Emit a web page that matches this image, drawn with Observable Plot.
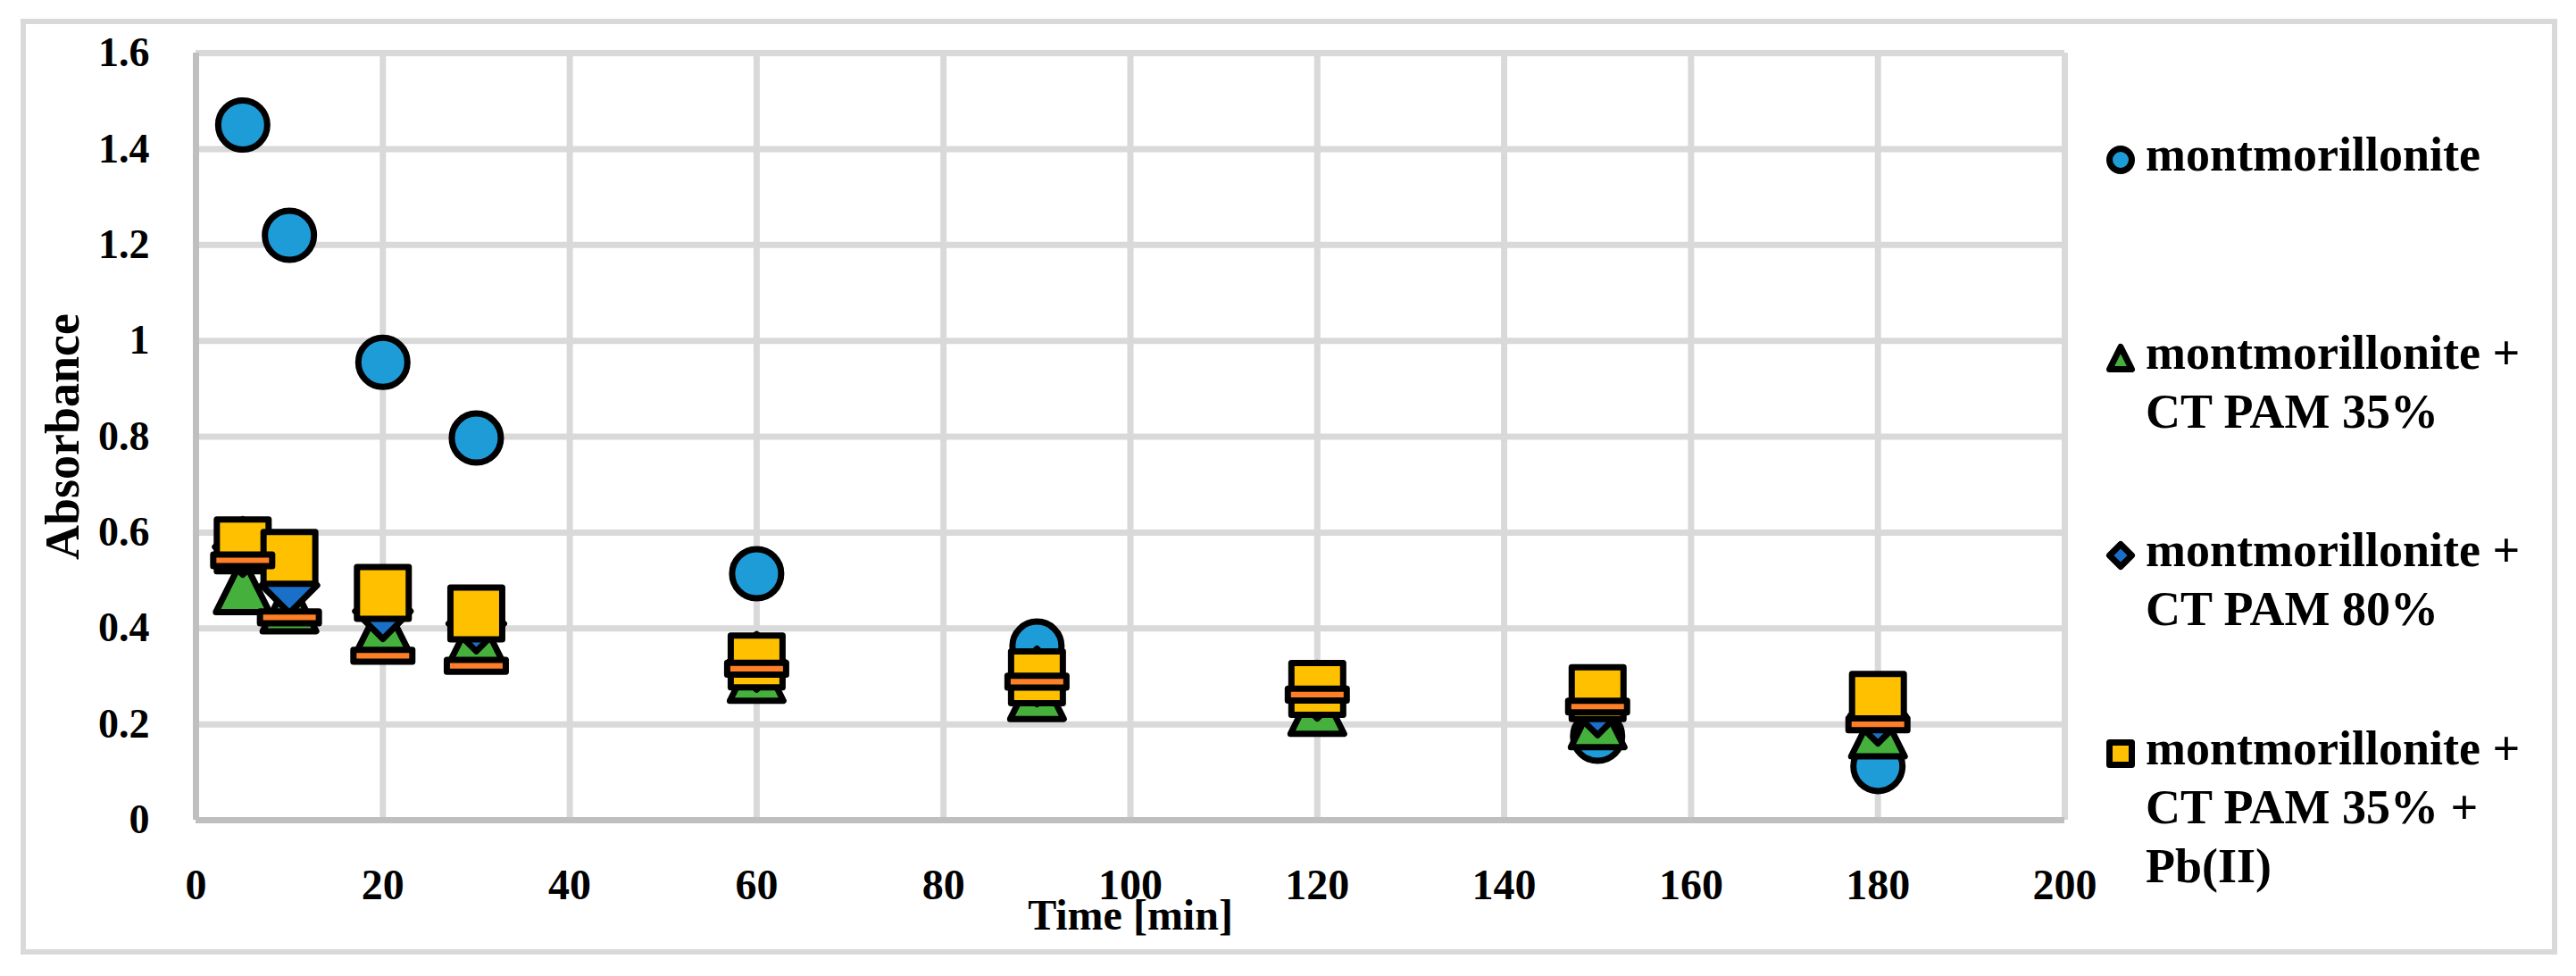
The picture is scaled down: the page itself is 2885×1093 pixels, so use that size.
<!DOCTYPE html>
<html><head><meta charset="utf-8">
<script src="https://cdn.jsdelivr.net/npm/d3@7"></script>
<script src="https://cdn.jsdelivr.net/npm/@observablehq/plot@0.6"></script>
<style>
html,body{margin:0;padding:0;background:#fff;}
#wrap{position:relative;width:2885px;height:1093px;background:#fff;overflow:hidden;font-family:"Liberation Serif",serif;font-weight:bold;}
#frame{position:absolute;left:23px;top:21px;width:2829px;height:1036px;border:6px solid #d9d9d9;pointer-events:none;}
#chart{position:absolute;left:0;top:0;}
#legend{position:absolute;left:2358px;top:0;}
.item{position:absolute;left:0;width:510px;}
.item svg{position:absolute;left:0;top:22px;overflow:visible;}
.item .lab{position:absolute;left:45px;top:0;width:460px;font-size:54px;line-height:66px;color:#000;}
</style></head>
<body>
<div id="wrap"><div id="chart"></div><div id="legend"></div><div id="frame"></div></div>
<script>
// ---- data ----
const times = [5, 10, 20, 30, 60, 90, 120, 150, 180];
const seriesNames = [
  "montmorillonite",
  "montmorillonite + CT PAM 35%",
  "montmorillonite + CT PAM 80%",
  "montmorillonite + CT PAM 35% + Pb(II)",
  "series 5"
];
const inLegend = [true, true, true, true, false];
const montmorillonite = [1.45, 1.22, 0.955, 0.797, 0.514, 0.363, 0.27, 0.175, 0.112];
const pam35 = [0.49, 0.45, 0.405, 0.385, 0.305, 0.267, 0.236, 0.208, 0.189];
const pam80 = [0.57, 0.49, 0.436, 0.41, 0.33, 0.30, 0.27, 0.235, 0.218];
const pam35Pb = [0.573, 0.547, 0.474, 0.431, 0.331, 0.298, 0.274, 0.265, 0.251];
const series5 = [0.542, 0.423, 0.343, 0.322, 0.316, 0.289, 0.262, 0.237, 0.20];
const seriesValues = [montmorillonite, pam35, pam80, pam35Pb, series5];
const seriesColors = ["#1E9CD7", "#45B03C", "#1A70C8", "#FFC000", "#FF7F27"];
const seriesShapes = ["circle", "triangle", "diamond", "square", "dash"];
const xTicks = [0, 20, 40, 60, 80, 100, 120, 140, 160, 180, 200];
const yTicks = [0, 0.2, 0.4, 0.6, 0.8, 1, 1.2, 1.4, 1.6];
const xLabel = "Time [min]";
const yLabel = "Absorbance";

// ---- styles ----
const markerR = {circle: 27.5, triangle: 30, diamond: 31, square: 29, dash: 33};
function drawShape(ctx, kind, h) {
  if (kind === "circle") { ctx.moveTo(h, 0); ctx.arc(0, 0, h, 0, 2 * Math.PI); }
  else if (kind === "square") { ctx.rect(-h, -h, 2 * h, 2 * h); }
  else if (kind === "triangle") { ctx.moveTo(0, -h); ctx.lineTo(h, h); ctx.lineTo(-h, h); ctx.closePath(); }
  else if (kind === "diamond") { ctx.moveTo(0, -h); ctx.lineTo(h, 0); ctx.lineTo(0, h); ctx.lineTo(-h, 0); ctx.closePath(); }
  else if (kind === "dash") { ctx.rect(-h, -h * 0.2, 2 * h, h * 0.4); }
}
function symbolOf(kind) {
  return {draw(ctx, size) { drawShape(ctx, kind, Math.sqrt(size / Math.PI)); }};
}

const table = [];
seriesNames.forEach((name, i) => {
  times.forEach((t, j) => table.push({series: name, t, v: seriesValues[i][j]}));
});

const font = '"Liberation Serif", serif';
const dots = seriesNames.map((name, i) => Plot.dot(table.filter(d => d.series === name), {
  x: "t", y: "v",
  r: markerR[seriesShapes[i]],
  symbol: symbolOf(seriesShapes[i]),
  fill: seriesColors[i],
  stroke: "#000",
  strokeWidth: 7,
  strokeLinejoin: "round"
}));

const fmt = d => String(+(+d).toFixed(1));

const chart = Plot.plot({
  width: 2350, height: 1093,
  marginLeft: 219, marginRight: 38, marginTop: 59, marginBottom: 175,
  style: {fontFamily: font, fontWeight: "bold", fontSize: "48px", background: "transparent", color: "#000"},
  x: {domain: [0, 200], ticks: xTicks},
  y: {domain: [0, 1.6], ticks: yTicks},
  marks: [
    Plot.gridX(xTicks, {stroke: "#d9d9d9", strokeOpacity: 1, strokeWidth: 7}),
    Plot.gridY(yTicks, {stroke: "#d9d9d9", strokeOpacity: 1, strokeWidth: 7}),
    Plot.ruleX([0], {stroke: "#bfbfbf", strokeWidth: 7}),
    Plot.ruleY([0], {stroke: "#bfbfbf", strokeWidth: 7}),
    Plot.axisX(xTicks, {tickSize: 0, tickPadding: 54, fontSize: 48, fontWeight: "bold", fontFamily: font,
      tickFormat: fmt, label: xLabel, labelAnchor: "center", labelOffset: 122, labelArrow: "none"}),
    Plot.axisY(yTicks, {tickSize: 0, tickPadding: 52, fontSize: 46, fontWeight: "bold", fontFamily: font,
      tickFormat: fmt, label: null}),
    Plot.axisY({ticks: [], tickSize: 0, fontSize: 54, fontWeight: "bold", fontFamily: font,
      label: yLabel, labelAnchor: "center", labelOffset: 170, labelArrow: "none"}),
    ...dots
  ]
});
document.getElementById("chart").appendChild(chart);

// ---- legend ----
const legend = d3.select("#legend");
const legendStep = 221.5, legendTop = 140;
seriesNames.forEach((name, i) => {
  if (!inLegend[i]) return;
  const item = legend.append("div").attr("class", "item").style("top", (legendTop + i * legendStep) + "px");
  const svg = item.append("svg").attr("width", 34).attr("height", 34);
  const p = d3.path();
  const kind = seriesShapes[i];
  drawShape(p, kind, 12.5);
  svg.append("path").attr("transform", "translate(17,17)").attr("d", p.toString())
    .attr("fill", seriesColors[i]).attr("stroke", "#000").attr("stroke-width", 7).attr("stroke-linejoin", "round");
  item.append("div").attr("class", "lab").text(name);
});
</script>
</body></html>
